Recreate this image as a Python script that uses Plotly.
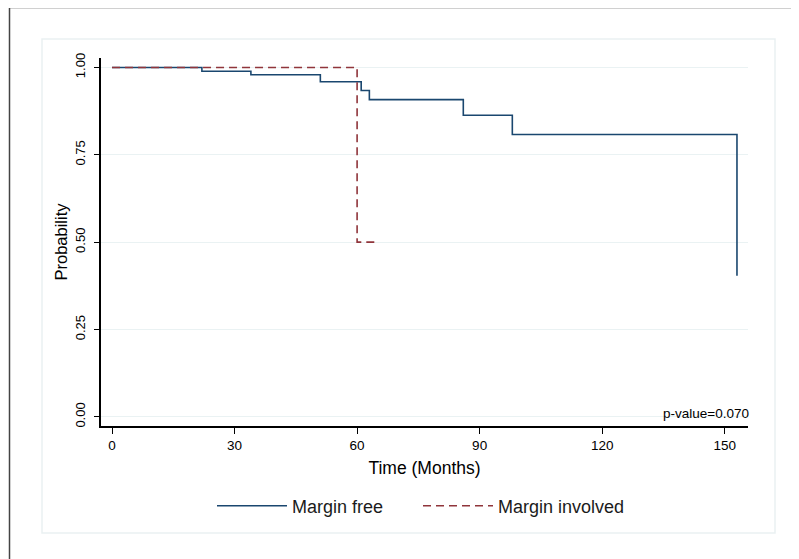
import plotly.graph_objects as go

# Kaplan-Meier estimates
free_time = [0, 22, 34, 51, 61, 63, 86, 98, 153]
free_surv = [1.0, 0.989, 0.979, 0.959, 0.934, 0.908, 0.863, 0.808, 0.404]

involved_time = [0, 60, 65]
involved_surv = [1.0, 0.5, 0.5]

x_ticks = [0, 30, 60, 90, 120, 150]
y_ticks = [0.0, 0.25, 0.5, 0.75, 1.0]
y_tick_labels = ["0.00", "0.25", "0.50", "0.75", "1.00"]

W, H = 799, 559
OFF = 8  # page body margin offset
# plot area in screen pixels: x 101..748, y 58..426
ML = 101 - OFF
MT = 58 - OFF
MR = W - (748 - OFF)
MB = H - (426 - OFF)
PW, PH = W - ML - MR, H - MT - MB

def px(x):
    return (x - OFF - ML) / PW

def py(y):
    return (H - MB - (y - OFF)) / PH

FONT = "Liberation Sans, Arial, sans-serif"

fig = go.Figure()
fig.add_trace(go.Scatter(
    x=free_time, y=free_surv, mode="lines", line_shape="hv",
    line=dict(color="#1a476f", width=1.6), name="Margin free"))
fig.add_trace(go.Scatter(
    x=involved_time, y=involved_surv, mode="lines", line_shape="hv",
    line=dict(color="#90353b", width=1.6, dash="8px,5px"), name="Margin involved"))

fig.update_layout(
    width=W, height=H,
    margin=dict(l=ML, r=MR, t=MT, b=MB),
    paper_bgcolor="white", plot_bgcolor="white",
    font=dict(family=FONT, color="#000000"),
    showlegend=True,
    legend=dict(orientation="h", x=px(212), xanchor="left", y=py(506), yanchor="middle",
                font=dict(size=18, family=FONT, color="#1b1b1b"), itemwidth=70,
                entrywidth=121, entrywidthmode="pixels",
                traceorder="normal"),
    xaxis=dict(range=[-2.7, 155.7], tickvals=x_ticks, ticks="outside", ticklen=6,
               tickwidth=1.2, tickcolor="#000", showline=True, linecolor="#000",
               linewidth=1.5, showgrid=False, zeroline=False,
               tickfont=dict(size=13.5, family=FONT),
               title=dict(text="Time (Months)", font=dict(size=17.5, family=FONT), standoff=10)),
    yaxis=dict(range=[-0.026, 1.027], tickvals=y_ticks, ticktext=y_tick_labels,
               ticks="outside", ticklen=5, tickwidth=1.2, tickcolor="#000",
               showline=True, linecolor="#000", linewidth=1.5,
               showgrid=True, gridcolor="#eaf2f3", gridwidth=1, zeroline=False,
               tickangle=-90, tickfont=dict(size=13, family=FONT), ticklabelstandoff=4,
               title=dict(text="Probability", font=dict(size=16.5, family=FONT), standoff=1)),
    shapes=[
        dict(type="rect", xref="paper", yref="paper",
             x0=px(9.5), x1=px(820), y0=py(7.5), y1=py(580),
             line=dict(color="#444444", width=1.5), fillcolor="rgba(0,0,0,0)", layer="below"),
        dict(type="rect", xref="paper", yref="paper",
             x0=px(42), x1=px(775), y0=py(39), y1=py(533),
             line=dict(color="#eaf1f2", width=1.5), fillcolor="rgba(0,0,0,0)", layer="below"),
    ],
    annotations=[
        dict(text="p-value=0.070", xref="paper", yref="paper", x=px(751), y=py(413),
             xanchor="right", yanchor="middle", showarrow=False,
             font=dict(size=13.5, family=FONT, color="#000")),
    ],
)

fig.write_html("out.html")
